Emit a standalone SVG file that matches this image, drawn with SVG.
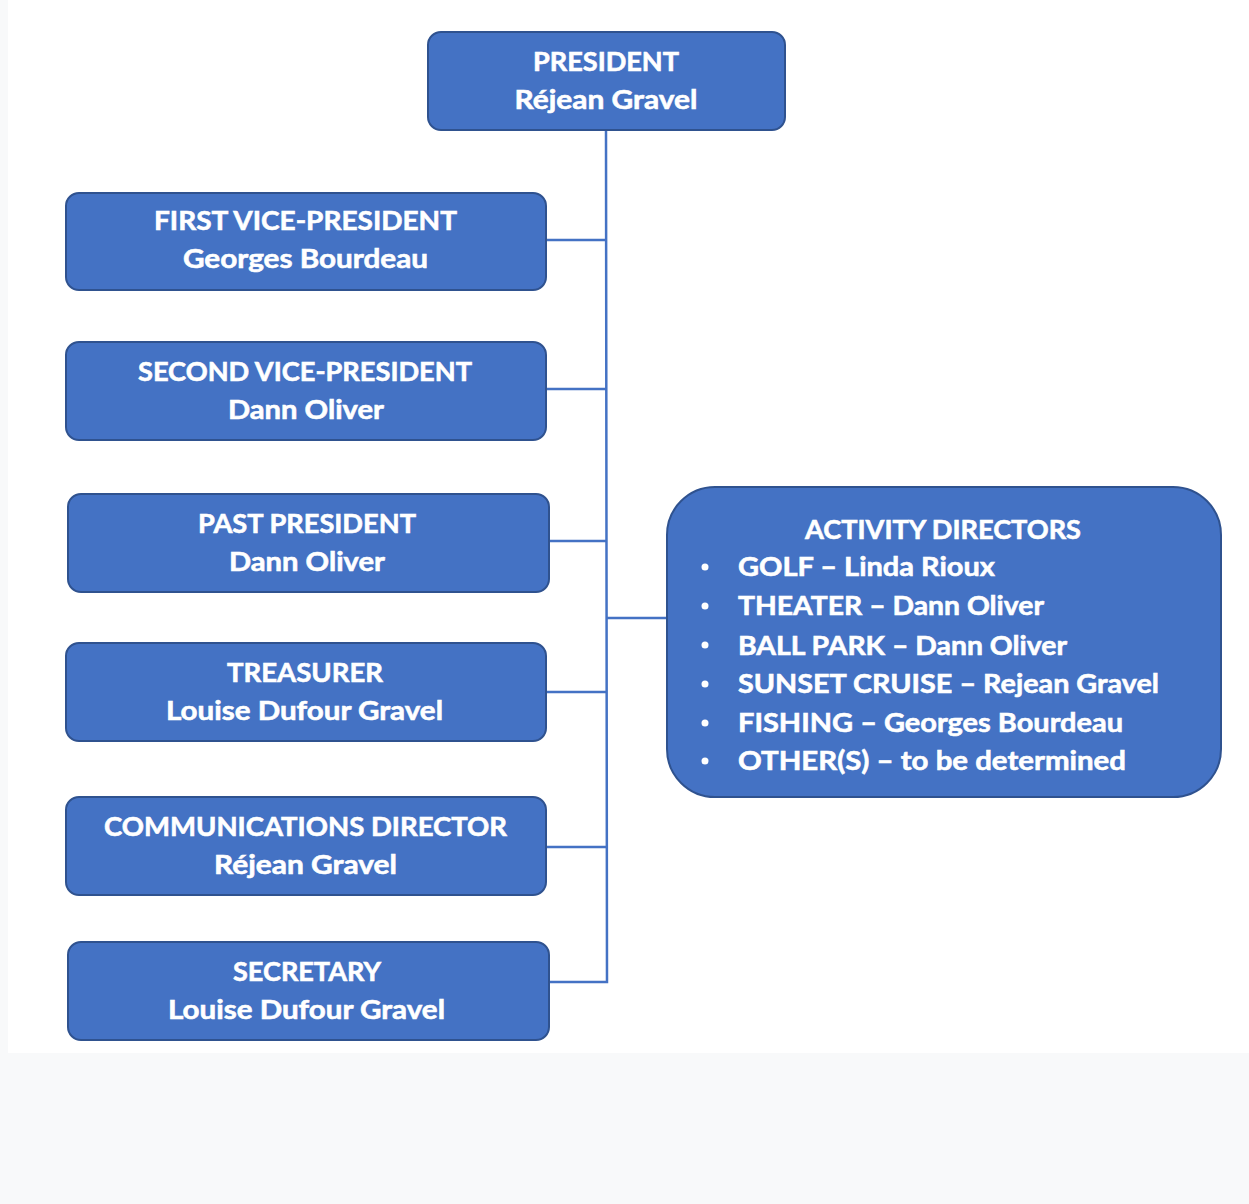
<svg xmlns="http://www.w3.org/2000/svg" width="1249" height="1204" viewBox="0 0 1249 1204">
<style>
.box{fill:#4472C4;stroke:#2F528F;stroke-width:2}
.t{font-family:Lato,"Open Sans","Liberation Sans",sans-serif;font-weight:bold;font-size:27px;fill:#FFFFFF;stroke:#FFFFFF;stroke-width:0.6;text-anchor:middle}
.l{font-family:Lato,"Open Sans","Liberation Sans",sans-serif;font-weight:bold;font-size:27px;fill:#FFFFFF;stroke:#FFFFFF;stroke-width:0.6}
.c{fill:none;stroke:#4472C4;stroke-width:2.5}
</style>
<rect x="0" y="0" width="1249" height="1204" fill="#F8F9FA"/>
<rect x="8" y="0" width="1241" height="1053" fill="#FFFFFF"/>
<g id="connectors">
<path class="c" d="M606,130 L607,982 H549"/>
<path class="c" d="M546,240 H606"/>
<path class="c" d="M546,389 H606"/>
<path class="c" d="M549,541 H606"/>
<path class="c" d="M546,692 H607"/>
<path class="c" d="M546,847 H607"/>
<path class="c" d="M606,618 H667"/>
</g>
<g id="president">
<rect class="box" x="428" y="32" width="357" height="98" rx="13"/>
<text class="t" x="606" y="71" textLength="146" lengthAdjust="spacingAndGlyphs">PRESIDENT</text>
<text class="t" x="606" y="109" textLength="183" lengthAdjust="spacingAndGlyphs">Réjean Gravel</text>
</g>
<g id="first-vp">
<rect class="box" x="66" y="193" width="480" height="97" rx="13"/>
<text class="t" x="305.5" y="230" textLength="303" lengthAdjust="spacingAndGlyphs">FIRST  VICE-PRESIDENT</text>
<text class="t" x="305.5" y="268" textLength="245" lengthAdjust="spacingAndGlyphs">Georges Bourdeau</text>
</g>
<g id="second-vp">
<rect class="box" x="66" y="342" width="480" height="98" rx="13"/>
<text class="t" x="305" y="381" textLength="334" lengthAdjust="spacingAndGlyphs">SECOND VICE-PRESIDENT</text>
<text class="t" x="306" y="419" textLength="156" lengthAdjust="spacingAndGlyphs">Dann Oliver</text>
</g>
<g id="past-president">
<rect class="box" x="68" y="494" width="481" height="98" rx="13"/>
<text class="t" x="307" y="533" textLength="218" lengthAdjust="spacingAndGlyphs">PAST PRESIDENT</text>
<text class="t" x="307" y="571" textLength="156" lengthAdjust="spacingAndGlyphs">Dann Oliver</text>
</g>
<g id="treasurer">
<rect class="box" x="66" y="643" width="480" height="98" rx="13"/>
<text class="t" x="305" y="682" textLength="156" lengthAdjust="spacingAndGlyphs">TREASURER</text>
<text class="t" x="304.5" y="720" textLength="277" lengthAdjust="spacingAndGlyphs">Louise Dufour Gravel</text>
</g>
<g id="communications">
<rect class="box" x="66" y="797" width="480" height="98" rx="13"/>
<text class="t" x="305.5" y="836" textLength="403" lengthAdjust="spacingAndGlyphs">COMMUNICATIONS DIRECTOR</text>
<text class="t" x="305.5" y="874" textLength="183" lengthAdjust="spacingAndGlyphs">Réjean Gravel</text>
</g>
<g id="secretary">
<rect class="box" x="68" y="942" width="481" height="98" rx="13"/>
<text class="t" x="307" y="981" textLength="148" lengthAdjust="spacingAndGlyphs">SECRETARY</text>
<text class="t" x="306.5" y="1019" textLength="277" lengthAdjust="spacingAndGlyphs">Louise Dufour Gravel</text>
</g>
<g id="activity-directors">
<rect class="box" x="667" y="487" width="554" height="310" rx="48"/>
<text class="t" x="943" y="539" textLength="276" lengthAdjust="spacingAndGlyphs">ACTIVITY DIRECTORS</text>
<g fill="#FFFFFF">
<circle cx="705" cy="567" r="3.5"/>
<circle cx="705" cy="606" r="3.5"/>
<circle cx="705" cy="645" r="3.5"/>
<circle cx="705" cy="684" r="3.5"/>
<circle cx="705" cy="723" r="3.5"/>
<circle cx="705" cy="761" r="3.5"/>
</g>
<text class="l" x="738" y="576" textLength="257" lengthAdjust="spacingAndGlyphs">GOLF – Linda Rioux</text>
<text class="l" x="738" y="615" textLength="306" lengthAdjust="spacingAndGlyphs">THEATER – Dann Oliver</text>
<text class="l" x="738" y="655" textLength="329" lengthAdjust="spacingAndGlyphs">BALL PARK – Dann Oliver</text>
<text class="l" x="738" y="693" textLength="421" lengthAdjust="spacingAndGlyphs">SUNSET CRUISE – Rejean Gravel</text>
<text class="l" x="738" y="732" textLength="385" lengthAdjust="spacingAndGlyphs">FISHING – Georges Bourdeau</text>
<text class="l" x="738" y="770" textLength="388" lengthAdjust="spacingAndGlyphs">OTHER(S) – to be determined</text>
</g>
</svg>
